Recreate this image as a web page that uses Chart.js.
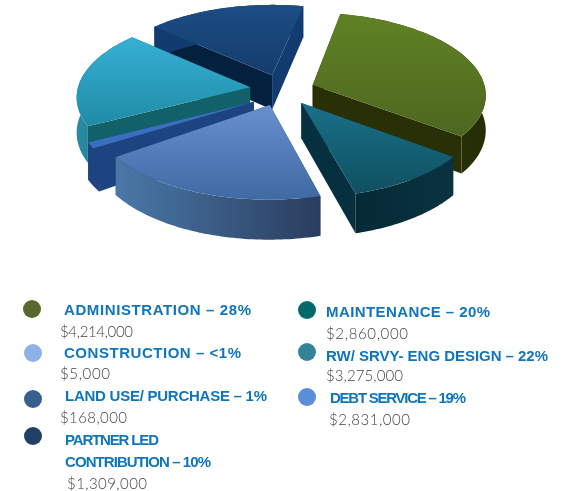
<!DOCTYPE html>
<html>
<head>
<meta charset="utf-8">
<script src="https://cdn.jsdelivr.net/npm/chart.js@4"></script>
<style>
html,body{margin:0;padding:0;background:#fff;}
#wrap{position:relative;width:567px;height:491px;overflow:hidden;}
#pie{position:absolute;left:0;top:0;filter:blur(.6px);}
.dot{position:absolute;width:18px;height:18px;border-radius:50%;}
.txt{position:absolute;white-space:nowrap;line-height:18px;}
.name{font:bold 15px "Liberation Sans",Arial,sans-serif;color:#0f75bd;}
.amt{font:300 15px Lato,sans-serif;color:#444;}
</style>
</head>
<body>
<div id="wrap">
<canvas id="pie" width="567" height="491"></canvas>
</div>
<script>
// slice sizes as they look in the picture, the drawing does not follow the printed percentages
var sliceNames = ["ADMINISTRATION","MAINTENANCE","DEBT SERVICE","CONSTRUCTION","LAND USE/ PURCHASE","RW/ SRVY- ENG DESIGN","PARTNER LED CONTRIBUTION"];
var sliceShares = [32.1,10.5,19.4,1.1,1.1,19.2,16.6];
var legendNames = [
  ["ADMINISTRATION \u2013 28%"],
  ["CONSTRUCTION \u2013 <1%"],
  ["LAND USE/ PURCHASE \u2013 1%"],
  ["PARTNER LED","CONTRIBUTION \u2013 10%"],
  ["MAINTENANCE \u2013 20%"],
  ["RW/ SRVY- ENG DESIGN \u2013 22%"],
  ["DEBT SERVICE \u2013 19%"]
];
var legendAmounts = ["$4,214,000","$5,000","$168,000","$1,309,000","$2,860,000","$3,275,000","$2,831,000"];
var legendColors = ["#56682b","#8fb2e6","#38608f","#223f66","#046a69","#348499","#5b8dd8"];

// layout of the legend, [x, centre y, width] for each text line
var nameBoxes = [
  [[64,310,187]],
  [[64,353,177]],
  [[65,396,202]],
  [[65,440,94],[65,462,146]],
  [[326,312,164]],
  [[326,356,222]],
  [[330,398,136]]
];
var amountBoxes = [[60,331,73],[60,373,50],[60,417,67],[67,483,80],[326,333,82],[326,375,77],[329,419,81]];
var dotCentres = [[32,309],[33,353],[33,399],[33,436],[307,310],[307,352],[307,397]];

// how far each slice is pulled out, in pie plane units [across, towards viewer]
var explode = [[35,-13],[23,25],[-8,29],[-24,23],[-24,23],[-28,-8],[-6,-34]];
var sliceStyles = [
  {top:["#608224","#4d6620"],wall:["#2c3a0a","#242e06"],start:"#262c05",end:"#2a3006"},
  {top:["#1a7088","#0f5060"],wall:["#052a36","#0a3240"],start:"#06303f",end:"#063040"},
  {top:["#6690cf","#3f6aa3"],wall:["#4a78a8","#2a3d5f"],start:"#2a3d5f",end:"#2a3d5f"},
  // construction is too thin to show, it reads as part of the land use wall
  {top:["#1d4480","#1d4480"],wall:["#1d4480","#1d4480"],start:"#1d4480",end:"#1d4480"},
  {top:["#3a6fc0","#3a6fc0"],wall:["#1d4480","#1d4480"],start:"#1d4480",end:"#1d4480"},
  {top:["#36b0d5","#1f8ba5"],wall:["#2a8ba5","#1c6e85"],start:"#11606a",end:"#11606a"},
  {top:["#1c4d85","#153c6b"],wall:["#123c70","#123c70"],start:"#04203f",end:"#123c70"}
];
var drawOrder = [6,0,5,3,4,1,2];

var CX = 278, CY = 91, TILT = 0.47, DIST = 1600, DEPTH = 35;

function project(u,v,h){
  var s = DIST/(DIST-v);
  return [CX+u*s, CY+TILT*v*s+h*s];
}

function linePath(ctx,pts){
  ctx.beginPath();
  pts.forEach(function(p,i){ if(i==0) ctx.moveTo(p[0],p[1]); else ctx.lineTo(p[0],p[1]); });
  ctx.closePath();
}

function drawSlice(ctx,arc,style,off){
  var p = arc.getProps(["startAngle","endAngle","outerRadius"],true);
  var u0 = off[0], v0 = off[1];
  var R = p.outerRadius;
  var steps = 60, rim = [], low = [];
  for(var i=0;i<=steps;i++){
    var a = p.startAngle+(p.endAngle-p.startAngle)*i/steps;
    var u = u0+R*Math.cos(a), v = v0+R*Math.sin(a);
    rim.push(project(u,v,0));
    low.push(project(u,v,DEPTH));
  }
  var A = project(u0,v0,0), A2 = project(u0,v0,DEPTH);

  ctx.fillStyle = style.start;
  linePath(ctx,[A,rim[0],low[0],A2]);
  ctx.fill();
  ctx.fillStyle = style.end;
  linePath(ctx,[A,rim[steps],low[steps],A2]);
  ctx.fill();

  var xs = rim.map(function(q){return q[0];});
  var ys = rim.map(function(q){return q[1];}).concat(A[1]);
  var g = ctx.createLinearGradient(Math.min.apply(null,xs),0,Math.max.apply(null,xs),0);
  g.addColorStop(0,style.wall[0]);
  g.addColorStop(1,style.wall[1]);
  ctx.fillStyle = g;
  linePath(ctx,rim.concat(low.slice().reverse()));
  ctx.fill();

  var t = ctx.createLinearGradient(0,Math.min.apply(null,ys),0,Math.max.apply(null,ys));
  t.addColorStop(0,style.top[0]);
  t.addColorStop(1,style.top[1]);
  ctx.fillStyle = t;
  linePath(ctx,[A].concat(rim));
  ctx.fill();
}

var tiltedPie = {
  id:"tiltedPie",
  beforeDatasetsDraw:function(chart){
    var ctx = chart.ctx, arcs = chart.getDatasetMeta(0).data;
    drawOrder.forEach(function(i){
      drawSlice(ctx,arcs[i],sliceStyles[i],explode[i]);
    });
    return false;
  }
};

new Chart("pie",{
  type:"pie",
  data:{
    labels:sliceNames,
    datasets:[{data:sliceShares,radius:173,borderWidth:0}]
  },
  options:{
    responsive:false,
    animation:false,
    rotation:11.5,
    events:[],
    plugins:{legend:{display:false},tooltip:{enabled:false}}
  },
  plugins:[tiltedPie]
});

// legend text, squeezed or spread to the width it has in the picture
var wrap = document.getElementById("wrap");
function addText(text,cls,box){
  var el = document.createElement("div");
  el.className = "txt "+cls;
  el.textContent = text;
  el.style.left = box[0]+"px";
  el.style.top = (box[1]-9)+"px";
  wrap.appendChild(el);
  var w = el.getBoundingClientRect().width;
  el.style.letterSpacing = ((box[2]-w)/(text.length-1))+"px";
}
legendColors.forEach(function(c,i){
  var d = document.createElement("div");
  d.className = "dot";
  d.style.background = c;
  d.style.left = (dotCentres[i][0]-9)+"px";
  d.style.top = (dotCentres[i][1]-9)+"px";
  wrap.appendChild(d);
  legendNames[i].forEach(function(line,j){
    addText(line,"name",nameBoxes[i][j]);
  });
  addText(legendAmounts[i],"amt",amountBoxes[i]);
});
</script>
</body>
</html>
